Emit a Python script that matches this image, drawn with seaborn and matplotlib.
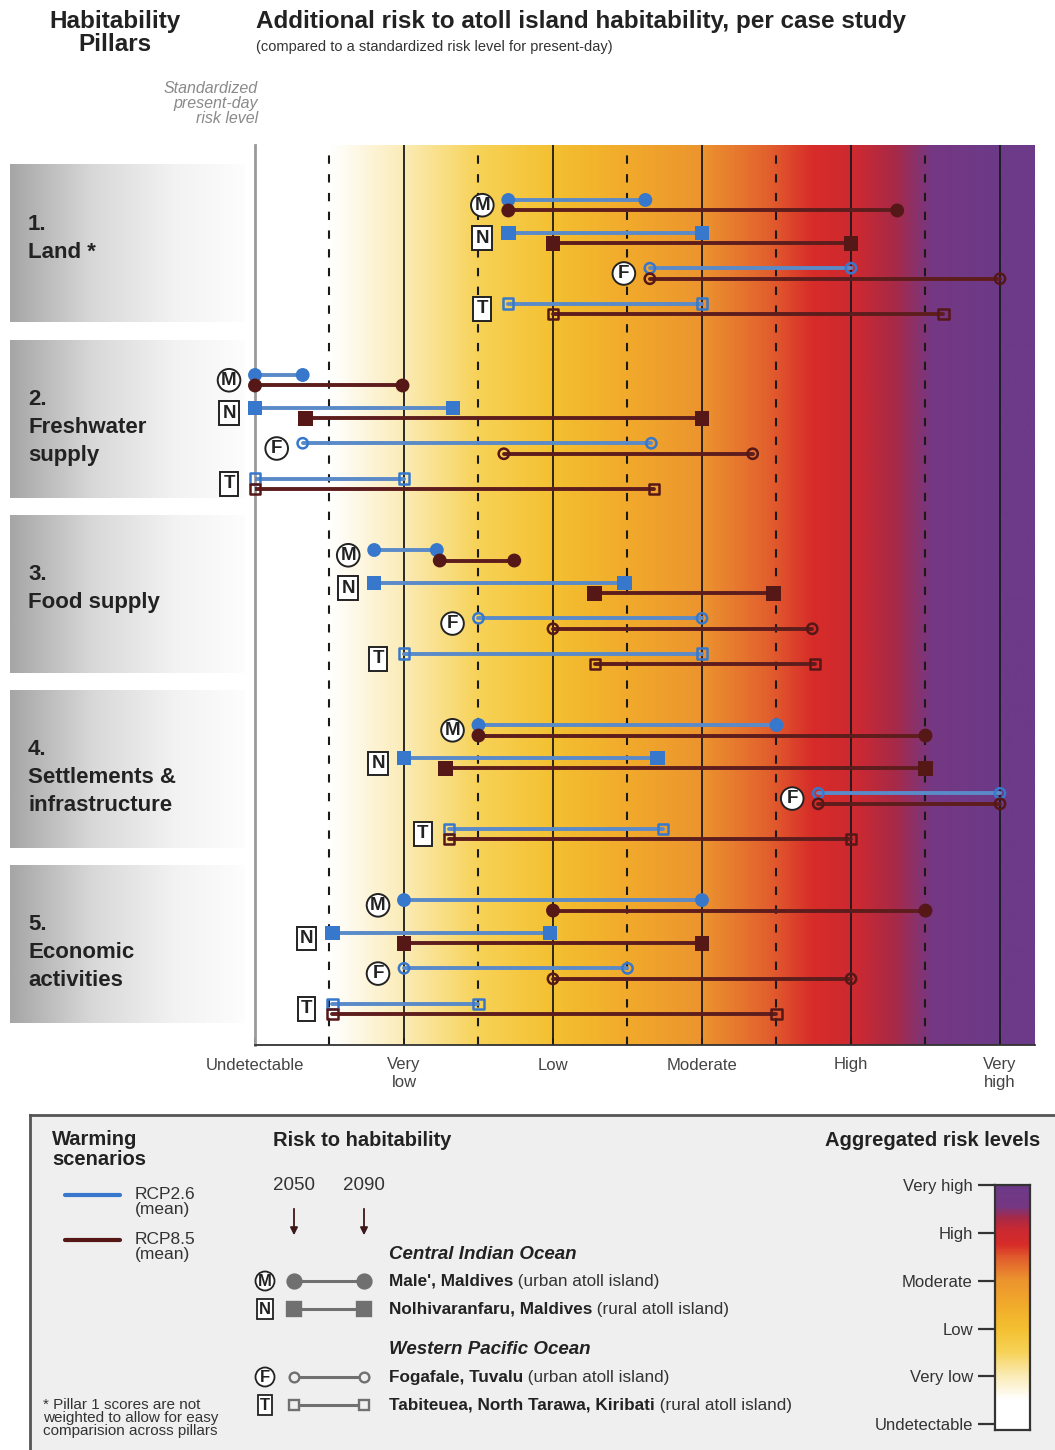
import numpy as np
import pandas as pd
import matplotlib
matplotlib.use("Agg")
import matplotlib.pyplot as plt
from matplotlib.colors import LinearSegmentedColormap, Normalize
import seaborn as sns

# -----------------------------
# DATA
# -----------------------------
pillar_names = ["1.\nLand *", "2.\nFreshwater\nsupply", "3.\nFood supply",
                "4.\nSettlements &\ninfrastructure", "5.\nEconomic\nactivities"]
site_codes = ["M", "N", "F", "T"]
risk_labels = ["Undetectable", "Very\nlow", "Low", "Moderate", "High", "Very\nhigh"]
bar_labels = ["Undetectable", "Very low", "Low", "Moderate", "High", "Very high"]

# risk level (0 = undetectable ... 5 = very high); rows = pillars, cols = M, N, F, T
rcp26_2050 = [[1.70, 1.70, 2.65, 1.70],
              [0.00, 0.00, 0.32, 0.00],
              [0.80, 0.80, 1.50, 1.00],
              [1.50, 1.00, 3.78, 1.30],
              [1.00, 0.52, 1.00, 0.52]]
rcp26_2090 = [[2.62, 3.00, 4.00, 3.00],
              [0.32, 1.33, 2.66, 1.00],
              [1.22, 2.48, 3.00, 3.00],
              [3.50, 2.70, 5.00, 2.74],
              [3.00, 1.98, 2.50, 1.50]]
rcp85_2050 = [[1.70, 2.00, 2.65, 2.00],
              [0.00, 0.34, 1.67, 0.00],
              [1.24, 2.28, 2.00, 2.28],
              [1.50, 1.28, 3.78, 1.30],
              [2.00, 1.00, 2.00, 0.52]]
rcp85_2090 = [[4.31, 4.00, 5.00, 4.62],
              [0.99, 3.00, 3.34, 2.68],
              [1.74, 3.48, 3.74, 3.76],
              [4.50, 4.50, 5.00, 4.00],
              [4.50, 3.00, 4.00, 3.50]]

# -----------------------------
# LAYOUT / STYLE
# -----------------------------
W, H = 1055, 1450
PILLAR_STEP = 5.0
SITE_OFFSET = [0.0, 0.94, 1.95, 2.96]
SCEN_SHIFT = 0.30
Y_TOP, Y_BOTTOM = -1.57, 24.14
X_MAX = 5.235

BLUE, BLUE_LINE = "#3778cc", "#5b8ac8"
BROWN, BROWN_LINE = "#561717", "#5e1d1d"

risk_cmap = LinearSegmentedColormap.from_list("risk", [
    (0.0, "#ffffff"), (0.5 / 5, "#ffffff"), (1.0 / 5, "#fbebb5"), (1.5 / 5, "#f7d257"),
    (2.0 / 5, "#f4c030"), (2.5 / 5, "#f1aa2b"), (3.0 / 5, "#ec942f"), (3.45 / 5, "#e2602d"),
    (3.75 / 5, "#d72c29"), (4.05 / 5, "#cc2932"), (4.3 / 5, "#a82946"), (4.55 / 5, "#753783"),
    (1.0, "#6c3a88")])
gray_cmap = LinearSegmentedColormap.from_list("pill", [
    (0.0, "#a6a6a6"), (0.35, "#d8d8d8"), (0.7, "#f2f2f2"), (1.0, "#fdfdfd")])

sns.set_style("white")
plt.rcParams["font.family"] = ["Liberation Sans", "DejaVu Sans"]


def fx(x):
    return x / W


def fy(y):
    return 1 - y / H


# -----------------------------
# LONG TABLE
# -----------------------------
rows = []
for i in range(len(pillar_names)):
    for j, s in enumerate(site_codes):
        for scen, a, b in [("RCP2.6", rcp26_2050, rcp26_2090), ("RCP8.5", rcp85_2050, rcp85_2090)]:
            ypos = i * PILLAR_STEP + SITE_OFFSET[j] + (SCEN_SHIFT if scen == "RCP8.5" else 0)
            for year, val in [(2050, a[i][j]), (2090, b[i][j])]:
                rows.append(dict(pillar=i, site=s, scenario=scen, year=year,
                                 risk=val, y=ypos, row=f"{i}-{s}-{scen}"))
df = pd.DataFrame(rows)

# -----------------------------
# FIGURE
# -----------------------------
fig = plt.figure(figsize=(W / 100, H / 100), dpi=100)
ax = fig.add_axes([fx(255), fy(1045), fx(1035 - 255), (1045 - 145) / H])
axL = fig.add_axes([fx(10), fy(1045), fx(235), (1045 - 145) / H], sharey=ax)
ax.set_zorder(3)
ax.patch.set_visible(False)

# background gradient
grad = np.linspace(0, X_MAX, 800)[None, :]
ax.imshow(grad, extent=[0, X_MAX, Y_BOTTOM, Y_TOP], aspect="auto", cmap=risk_cmap,
          norm=Normalize(0, 5), zorder=0, interpolation="bilinear")

for lv in range(1, 6):
    ax.axvline(lv, color="#1a1a1a", lw=1.3, zorder=1)
    ax.axvline(lv - 0.5, color="#1a1a1a", lw=1.5, ls=(0, (4, 5)), zorder=1)

# lines
sns.lineplot(data=df, x="risk", y="y", hue="scenario", units="row", estimator=None,
             palette={"RCP2.6": BLUE_LINE, "RCP8.5": BROWN_LINE}, linewidth=2.8,
             legend=False, sort=False, ax=ax, zorder=3)

# markers
marker_style = {"M": ("o", True, 100), "N": ("s", True, 110), "F": ("o", False, 55), "T": ("s", False, 55)}
for s, (mk, filled, size) in marker_style.items():
    sub = df[df.site == s]
    sns.scatterplot(data=sub, x="risk", y="y", hue="scenario", marker=mk, s=size,
                    palette={"RCP2.6": BLUE, "RCP8.5": BROWN},
                    linewidth=0 if filled else 1.8, legend=False, ax=ax, zorder=4, clip_on=False)
    if not filled:
        pts = ax.collections[-1]
        pts.set_edgecolors(pts.get_facecolors())
        pts.set_facecolors("none")

# site badges
for i in range(len(pillar_names)):
    for j, s in enumerate(site_codes):
        x0 = min(rcp26_2050[i][j], rcp85_2050[i][j])
        y0 = i * PILLAR_STEP + SITE_OFFSET[j] + 0.15
        shape = "circle,pad=0.15" if s in ("M", "F") else "square,pad=0.17"
        ax.annotate(s, xy=(x0, y0), xytext=(-18.7, 0), textcoords="offset points",
                    ha="center", va="center", fontsize=13.5, fontweight="bold", color="#222",
                    annotation_clip=False,
                    bbox=dict(boxstyle=shape, fc="white", ec="#222", lw=1.4), zorder=5)

# axes styling
ax.set_xticks(range(6))
ax.set_xticklabels(risk_labels)
ax.set_xticks(np.arange(0.5, 5, 1.0), minor=True)
ax.tick_params(axis="x", which="both", direction="in", length=5, width=1.2, color="#222",
               labelsize=12, labelcolor="#444", pad=9, bottom=True)
ax.set_yticks([])
ax.set_xlabel("")
ax.set_ylabel("")
for side in ("top", "right"):
    ax.spines[side].set_visible(False)
ax.spines["left"].set_color("#9a9a9a")
ax.spines["left"].set_linewidth(2)
ax.spines["bottom"].set_color("#333")
ax.spines["bottom"].set_linewidth(1.3)

# pillar boxes
for i, name in enumerate(pillar_names):
    top = i * PILLAR_STEP - 1.0
    bot = i * PILLAR_STEP + 3.5
    axL.imshow(np.linspace(0, 1, 200)[None, :], extent=[0, 1, bot, top], aspect="auto",
               cmap=gray_cmap, interpolation="bilinear")
    axL.text(0.077, top + 1.4, name, ha="left", va="top", fontsize=16, fontweight="bold",
             color="#222", linespacing=1.45)
axL.set_xlim(0, 1)
axL.axis("off")

ax.set_xlim(0, X_MAX)
ax.set_ylim(Y_BOTTOM, Y_TOP)

# headers
fig.text(fx(115), fy(10), "Habitability\nPillars", ha="center", va="top", fontsize=17.5,
         fontweight="bold", color="#222", linespacing=1.0)
fig.text(fx(256), fy(10), "Additional risk to atoll island habitability, per case study",
         ha="left", va="top", fontsize=17.5, fontweight="bold", color="#222")
fig.text(fx(256), fy(47), "(compared to a standardized risk level for present-day)",
         ha="left", va="center", fontsize=10.5, color="#333")
fig.text(fx(258), fy(81), "Standardized\npresent-day\nrisk level", ha="right", va="top",
         fontsize=11.5, style="italic", color="#8a8a8a", linespacing=1.0)

# -----------------------------
# LEGEND PANEL
# -----------------------------
lg = fig.add_axes([fx(30), 0, fx(W - 30), (H - 1115) / H])
lg.set_xlim(30, W)
lg.set_ylim(H, 1115)
lg.set_facecolor("#efefef")
lg.set_xticks([])
lg.set_yticks([])
for side in ("right", "bottom"):
    lg.spines[side].set_visible(False)
for side in ("top", "left"):
    lg.spines[side].set_color("#555")
    lg.spines[side].set_linewidth(2)

lg.text(52, 1130, "Warming\nscenarios", ha="left", va="top", fontsize=14.5,
        fontweight="bold", color="#222", linespacing=1.05)
lg.plot([65, 120], [1195, 1195], color=BLUE, lw=3)
lg.plot([65, 120], [1240, 1240], color=BROWN, lw=3)
lg.text(135, 1187, "RCP2.6\n(mean)", ha="left", va="top", fontsize=12.5, color="#333", linespacing=1.0)
lg.text(135, 1232, "RCP8.5\n(mean)", ha="left", va="top", fontsize=12.5, color="#333", linespacing=1.0)
lg.text(43, 1398, "* Pillar 1 scores are not\nweighted to allow for easy\ncomparision across pillars",
        ha="left", va="top", fontsize=11, color="#333", linespacing=0.92)

lg.text(273, 1140, "Risk to habitability", ha="left", va="center", fontsize=14.5,
        fontweight="bold", color="#222")
for xx, yr in [(294, "2050"), (364, "2090")]:
    lg.text(xx, 1185, yr, ha="center", va="center", fontsize=13.5, color="#333")
    lg.annotate("", xy=(xx, 1238), xytext=(xx, 1206),
                arrowprops=dict(arrowstyle="-|>", color="#3b1717", lw=1.3, mutation_scale=11))

lg.text(389, 1254, "Central Indian Ocean", ha="left", va="center", fontsize=13.5,
        fontweight="bold", style="italic", color="#222")
lg.text(389, 1349, "Western Pacific Ocean", ha="left", va="center", fontsize=13.5,
        fontweight="bold", style="italic", color="#222")

legend_rows = [("M", 1281, "o", True, "Male', Maldives", " (urban atoll island)"),
               ("N", 1309, "s", True, "Nolhivaranfaru, Maldives", " (rural atoll island)"),
               ("F", 1377, "o", False, "Fogafale, Tuvalu", " (urban atoll island)"),
               ("T", 1405, "s", False, "Tabiteuea, North Tarawa, Kiribati", " (rural atoll island)")]
for code, yy, mk, filled, bold, rest in legend_rows:
    shape = "circle,pad=0.12" if mk == "o" else "square,pad=0.14"
    lg.text(265, yy, code, ha="center", va="center", fontsize=12, fontweight="bold", color="#222",
            bbox=dict(boxstyle=shape, fc="white", ec="#222", lw=1.3))
    lg.plot([294, 364], [yy, yy], color="#707070", lw=2.2,
            marker=mk, markersize=10 if filled else 7, markeredgewidth=1.7,
            markerfacecolor="#707070" if filled else "#efefef", markeredgecolor="#707070")
    t = lg.text(389, yy, bold, ha="left", va="center", fontsize=12.3, fontweight="bold", color="#222")
    lg.annotate(rest, xy=(1, 0.5), xycoords=t, ha="left", va="center", fontsize=12.3, color="#333")

lg.text(1040, 1140, "Aggregated risk levels", ha="right", va="center", fontsize=14.5,
        fontweight="bold", color="#222")

cax = fig.add_axes([fx(995), (H - 1430) / H, fx(35), 245 / H])
cax.imshow(np.linspace(0, 5, 300)[:, None], extent=[0, 1, 0, 5], origin="lower", aspect="auto",
           cmap=risk_cmap, norm=Normalize(0, 5), interpolation="bilinear")
cax.set_ylim(-0.12, 5)
cax.set_xticks([])
cax.set_yticks(range(6))
cax.set_yticklabels(bar_labels)
cax.tick_params(axis="y", left=True, length=12, width=1.6, color="#333", labelsize=12,
                labelcolor="#333", pad=4)
for sp in cax.spines.values():
    sp.set_color("#333")
    sp.set_linewidth(1.6)

fig.savefig("out.png", dpi=100)
